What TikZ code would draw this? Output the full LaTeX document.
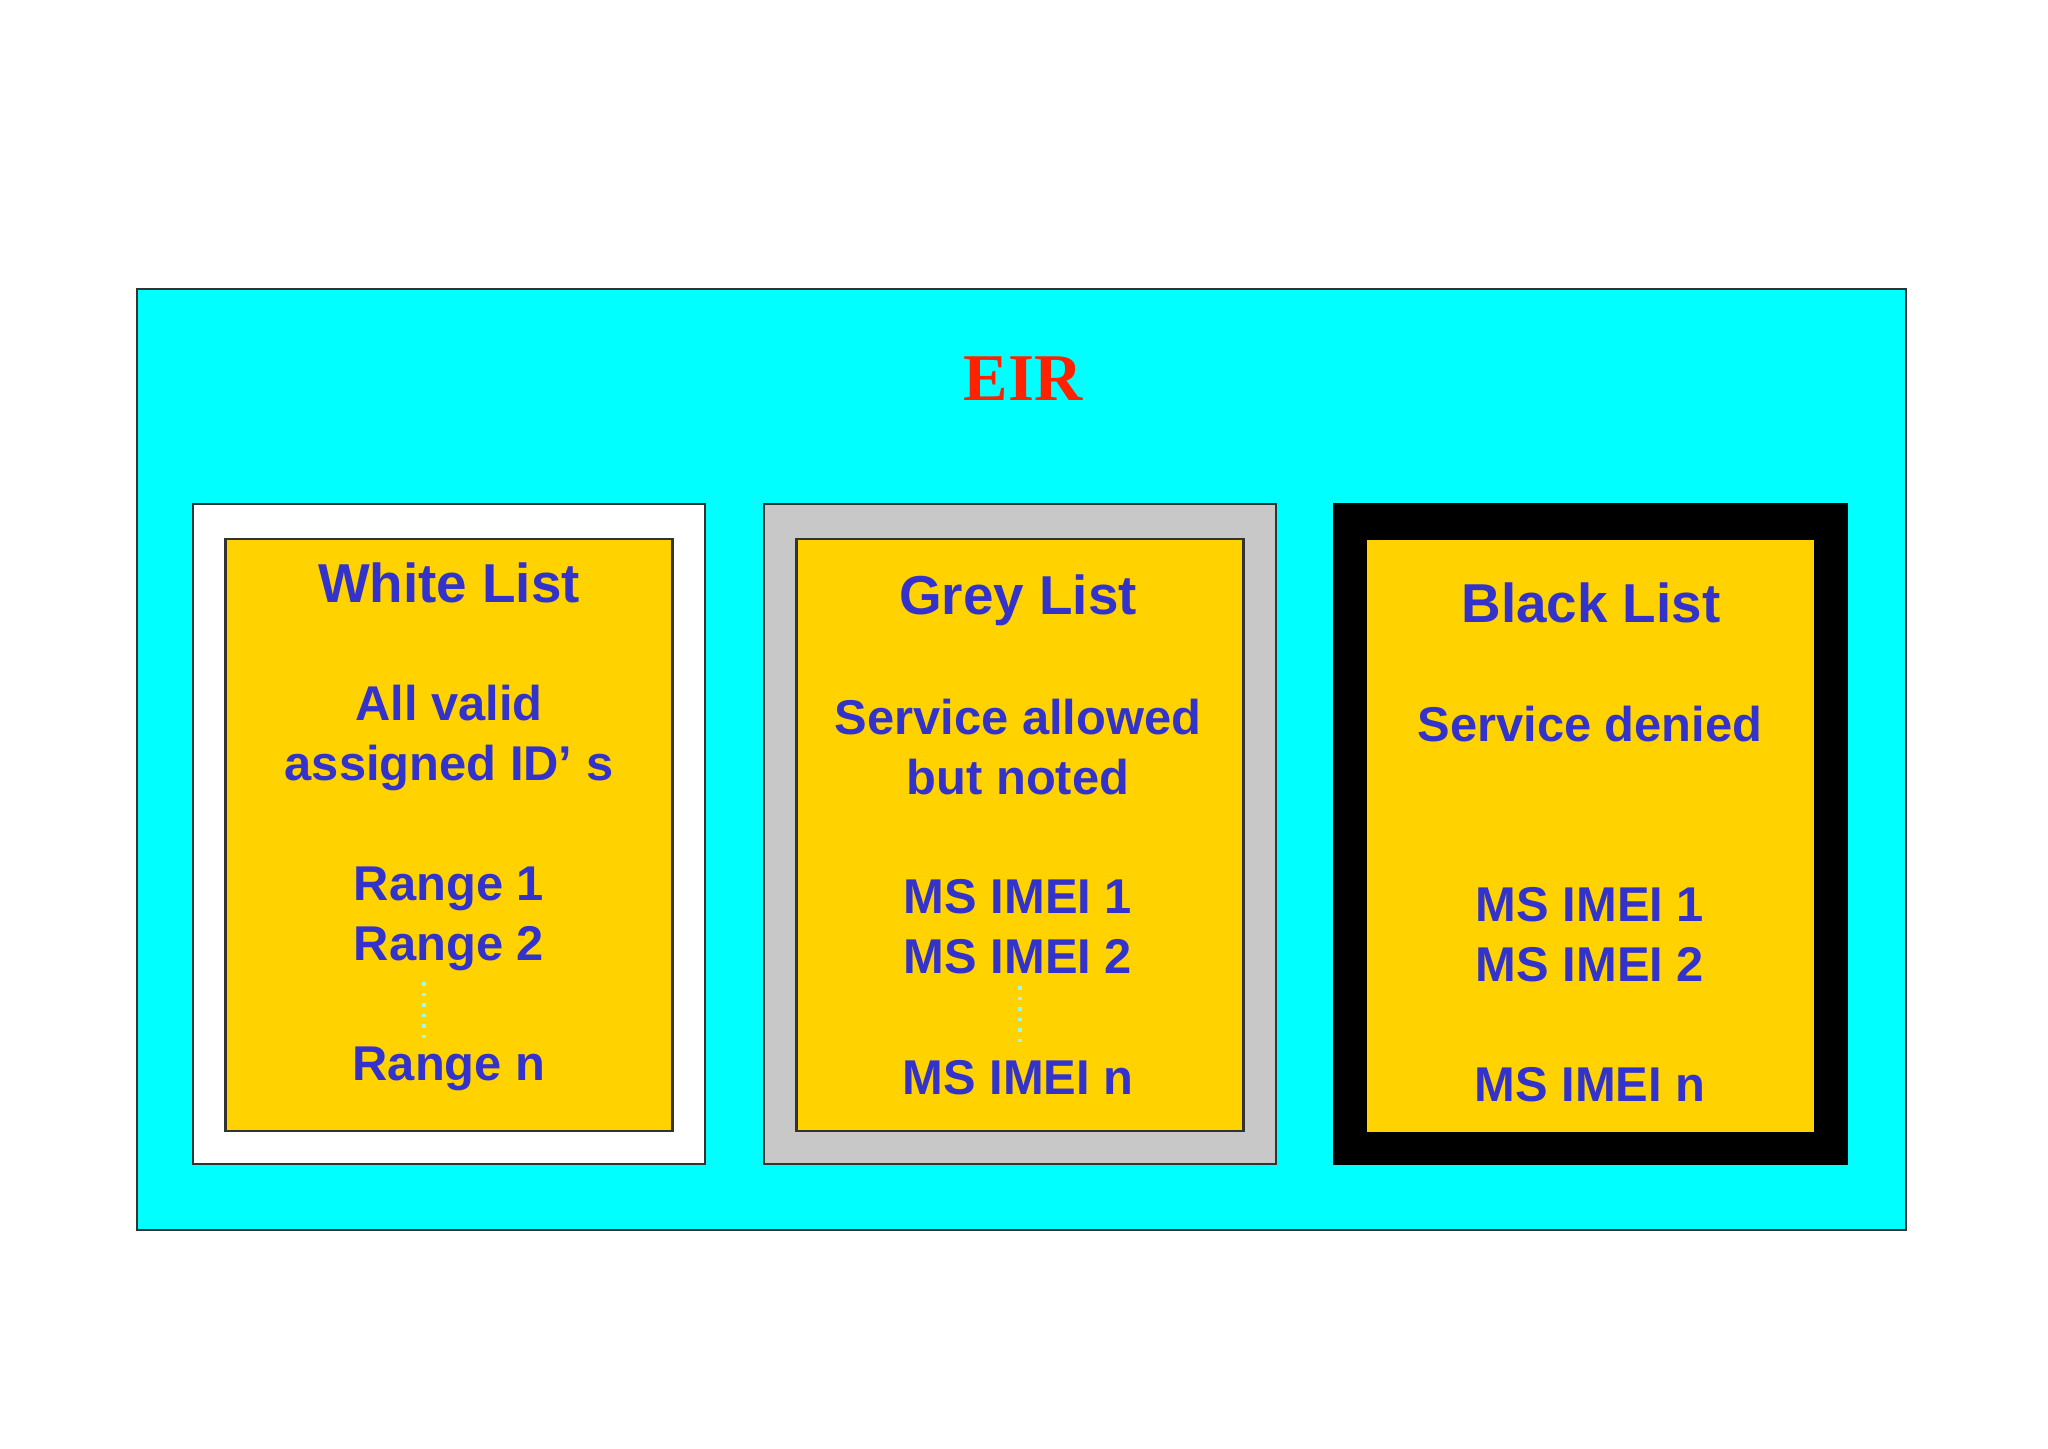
\documentclass[tikz,border=0pt]{standalone}
\usepackage{fontspec}
\setmainfont{Liberation Sans}
\newfontfamily\eirfont{Liberation Serif}
\usepackage{tikz}
\usetikzlibrary{positioning}

\definecolor{eircyan}{RGB}{0,255,255}
\definecolor{listyellow}{RGB}{255,210,0}
\definecolor{listgrey}{RGB}{200,200,200}
\definecolor{listblue}{RGB}{51,51,204}
\definecolor{eirred}{RGB}{255,34,0}
\definecolor{dotcyan}{RGB}{160,250,235}

\begin{document}
\begin{tikzpicture}[
	frame/.style={rectangle, draw=black!80, line width=0.6pt, minimum width=5.12cm, minimum height=6.60cm, inner sep=0pt},
	card/.style={rectangle, draw=black!80, line width=0.6pt, fill=listyellow, minimum width=4.47cm, minimum height=5.92cm, inner sep=0pt},
	entry/.style={anchor=base, text=listblue, inner sep=0pt, font=\fontsize{13.9}{16}\selectfont\bfseries},
	title/.style={entry, font=\fontsize{15.6}{17}\selectfont\bfseries},
	gap/.style={dotcyan, dotted, line width=1pt}]
	\useasboundingbox (0,0) rectangle (20.48,14.48);
	\fill[white] (0,0) rectangle (20.48,14.48);
	% EIR
	\node[rectangle, draw=black!80, line width=0.6pt, fill=eircyan, minimum width=17.69cm, minimum height=9.41cm, inner sep=0pt] (eir) at (10.215,6.885) {};
	\node[anchor=base, text=eirred, inner sep=0pt, font=\eirfont\fontsize{19}{22}\selectfont\bfseries] (eirlabel) at (10.23,10.47) {EIR};
	%
	\node[frame, fill=white] (whiteframe) at (4.49,6.14) {};
	\node[card] (whitecard) at (4.49,6.13) {};
	\node[title] (whitetitle) at (4.49,8.45) {White List};
	\node[entry] (whitea) at (4.49,7.27) {All valid};
	\node[entry] (whiteb) at (4.49,6.67) {assigned ID’ s};
	\node[entry] (whiter1) at (4.49,5.47) {Range 1};
	\node[entry] (whiter2) at (4.49,4.87) {Range 2};
	\node[entry] (whitern) at (4.49,3.67) {Range n};
	\draw[gap] (4.24,4.66)--(4.24,4.03);
	%
	\node[frame, fill=listgrey] (greyframe) at (10.20,6.14) {};
	\node[card] (greycard) at (10.20,6.13) {};
	\node[title] (greytitle) at (10.18,8.33) {Grey List};
	\node[entry] (greya) at (10.18,7.13) {Service allowed};
	\node[entry] (greyb) at (10.18,6.53) {but noted};
	\node[entry] (greym1) at (10.18,5.34) {MS IMEI 1};
	\node[entry] (greym2) at (10.18,4.74) {MS IMEI 2};
	\node[entry] (greymn) at (10.18,3.54) {MS IMEI n};
	\draw[gap] (10.20,4.62)--(10.20,4.03);
	%
	\node[frame, fill=black, draw=black] (blackframe) at (15.905,6.14) {};
	\node[card, draw=none] (blackcard) at (15.90,6.12) {};
	\node[title] (blacktitle) at (15.91,8.25) {Black List};
	\node[entry] (blacka) at (15.90,7.06) {Service denied};
	\node[entry] (blackm1) at (15.90,5.26) {MS IMEI 1};
	\node[entry] (blackm2) at (15.90,4.66) {MS IMEI 2};
	\node[entry] (blackmn) at (15.90,3.47) {MS IMEI n};
\end{tikzpicture}
\end{document}
